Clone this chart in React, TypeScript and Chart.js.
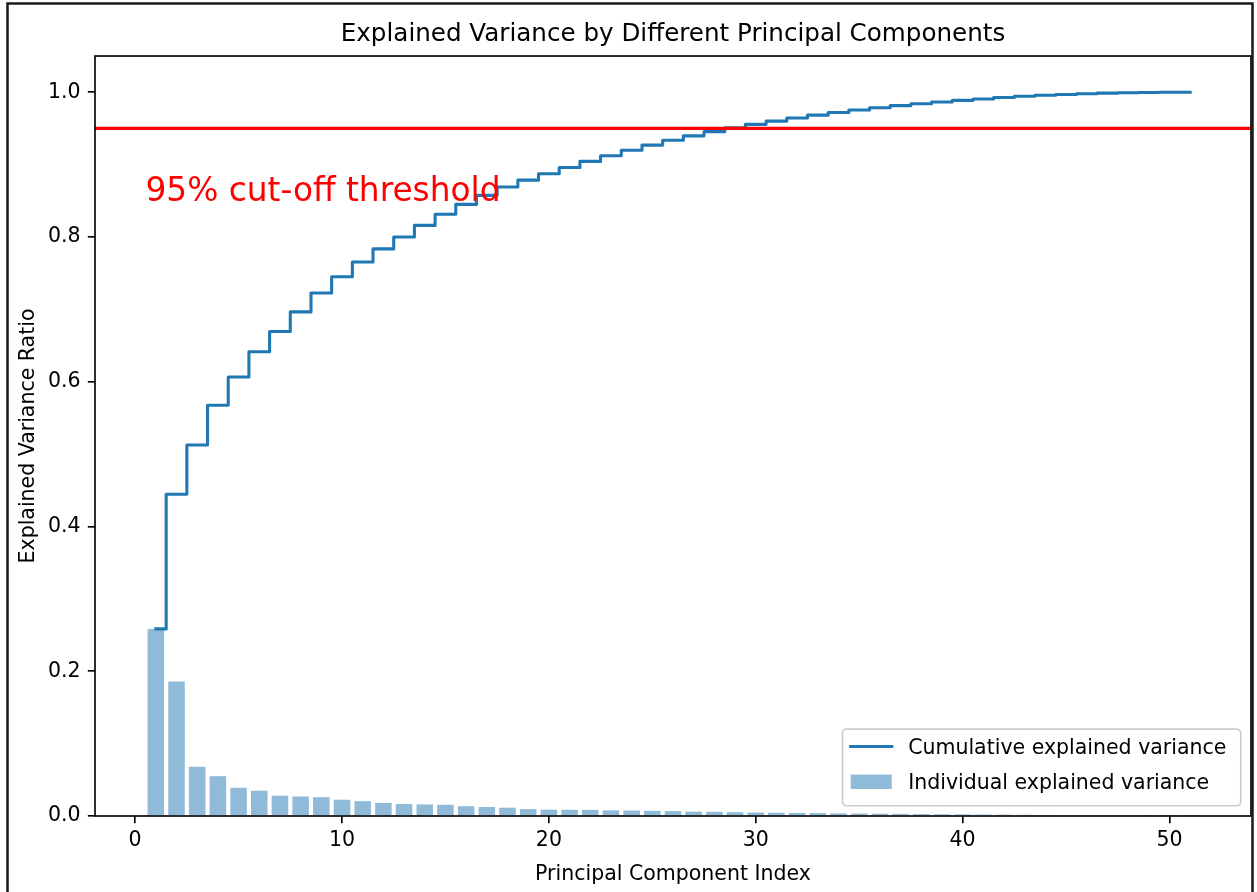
import React, { useEffect, useRef } from 'react';
import { Chart, registerables } from 'chart.js';

Chart.register(...registerables);

// Typography / line scale: sizes are given in points and converted to pixels.
const PT = 2.05;
const FONT = "'DejaVu Sans', sans-serif";
const BASE_SIZE = 10 * PT;

const TITLE = 'Explained Variance by Different Principal Components';
const X_LABEL = 'Principal Component Index';
const Y_LABEL = 'Explained Variance Ratio';
const SERIES_LABELS = ['Cumulative explained variance', 'Individual explained variance'];

const COMPONENT_INDEX = [
  1, 2, 3, 4, 5, 6, 7, 8, 9, 10,
  11, 12, 13, 14, 15, 16, 17, 18, 19, 20,
  21, 22, 23, 24, 25, 26, 27, 28, 29, 30,
  31, 32, 33, 34, 35, 36, 37, 38, 39, 40,
  41, 42, 43, 44, 45, 46, 47, 48, 49, 50,
  51,
];

const INDIVIDUAL_VARIANCE = [
  0.2585, 0.186, 0.068, 0.055, 0.039, 0.035, 0.028, 0.027, 0.026, 0.0225,
  0.0205, 0.018, 0.0165, 0.016, 0.0155, 0.0135, 0.0125, 0.0115, 0.0095, 0.0088,
  0.0086, 0.0085, 0.0077, 0.0076, 0.0072, 0.0068, 0.006, 0.0058, 0.0053, 0.0048,
  0.0045, 0.0042, 0.004, 0.0036, 0.0034, 0.0032, 0.003, 0.0026, 0.0024, 0.0022,
  0.002, 0.0019, 0.0017, 0.0014, 0.0012, 0.001, 0.0008, 0.0006, 0.0004, 0.0002,
  0.0001,
];

const CUMULATIVE_VARIANCE = [
  0.2585, 0.4445, 0.5125, 0.5675, 0.6065, 0.6415, 0.6695, 0.6965, 0.7225, 0.745,
  0.7655, 0.7835, 0.8, 0.816, 0.8315, 0.845, 0.8575, 0.869, 0.8785, 0.8873,
  0.8959, 0.9044, 0.9121, 0.9197, 0.9269, 0.9337, 0.9397, 0.9455, 0.9508, 0.9556,
  0.9601, 0.9643, 0.9683, 0.9719, 0.9753, 0.9785, 0.9815, 0.9841, 0.9865, 0.9887,
  0.9907, 0.9926, 0.9943, 0.9957, 0.9969, 0.9979, 0.9987, 0.9993, 0.9997, 0.9999,
  1.0,
];

const X_TICKS = [0, 10, 20, 30, 40, 50];
const Y_TICKS = [0, 0.2, 0.4, 0.6, 0.8, 1.0];
const X_LIMITS = [-1.94, 53.94];
const Y_LIMITS = [0, 1.05];

const THRESHOLD = 0.95;
const THRESHOLD_TEXT = '95% cut-off threshold';
const THRESHOLD_TEXT_AT = [0.5, 0.85];

const BLUE = '#1f77b4';
const BAR_FILL = 'rgba(31, 119, 180, 0.5)';
const THRESHOLD_COLOR = '#ff0000';

// Threshold line, its caption, the four axes spines and the in-plot legend.
const overlayPlugin = {
  id: 'overlay',
  afterDatasetsDraw(chart: any) {
    const { ctx, chartArea: ca, scales } = chart;
    ctx.save();

    const yT = scales.y.getPixelForValue(THRESHOLD);
    ctx.strokeStyle = THRESHOLD_COLOR;
    ctx.lineWidth = 1.5 * PT;
    ctx.beginPath();
    ctx.moveTo(ca.left, yT);
    ctx.lineTo(ca.right, yT);
    ctx.stroke();

    ctx.strokeStyle = '#000';
    ctx.lineWidth = 0.8 * PT;
    ctx.strokeRect(ca.left, ca.top, ca.right - ca.left, ca.bottom - ca.top);

    ctx.fillStyle = THRESHOLD_COLOR;
    ctx.font = `${16 * PT}px ${FONT}`;
    ctx.textAlign = 'left';
    ctx.textBaseline = 'alphabetic';
    ctx.fillText(
      THRESHOLD_TEXT,
      scales.x.getPixelForValue(THRESHOLD_TEXT_AT[0]),
      scales.y.getPixelForValue(THRESHOLD_TEXT_AT[1])
    );

    // Legend in the lower right corner of the axes
    const F = BASE_SIZE;
    ctx.font = `${F}px ${FONT}`;
    const datasets = chart.data.datasets;
    const textW = Math.max(...datasets.map((d: any) => ctx.measureText(d.label).width));
    const pad = 0.4 * F;
    const hLen = 2 * F;
    const hPad = 0.8 * F;
    const rowH = 1.22 * F;
    const spacing = 0.5 * F;
    const w = pad * 2 + hLen + hPad + textW + 0.3 * F;
    const h = pad * 2 + rowH * datasets.length + spacing * (datasets.length - 1);
    const right = ca.right - 0.5 * F;
    const bottom = ca.bottom - 0.5 * F;
    const left = right - w;
    const top = bottom - h;

    ctx.beginPath();
    ctx.roundRect(left, top, w, h, 0.2 * F);
    ctx.fillStyle = 'rgba(255, 255, 255, 0.8)';
    ctx.fill();
    ctx.strokeStyle = '#cccccc';
    ctx.lineWidth = 0.8 * PT;
    ctx.stroke();

    datasets.forEach((d: any, i: number) => {
      const baseline = top + pad + i * (rowH + spacing) + 0.8 * F;
      const hx = left + pad;
      if (d.type === 'line') {
        ctx.strokeStyle = d.borderColor;
        ctx.lineWidth = d.borderWidth;
        ctx.lineCap = 'square';
        ctx.beginPath();
        ctx.moveTo(hx, baseline - 0.35 * F);
        ctx.lineTo(hx + hLen, baseline - 0.35 * F);
        ctx.stroke();
        ctx.lineCap = 'butt';
      } else {
        ctx.fillStyle = d.backgroundColor;
        ctx.fillRect(hx, baseline - 0.7 * F, hLen, 0.7 * F);
      }
      ctx.fillStyle = '#000';
      ctx.textAlign = 'left';
      ctx.textBaseline = 'alphabetic';
      ctx.fillText(d.label, hx + hLen + hPad, baseline);
    });

    ctx.restore();
  },
  afterDraw(chart: any) {
    // Dark frame around the whole figure
    const { ctx, width, height } = chart;
    ctx.save();
    ctx.strokeStyle = '#1a1a1a';
    ctx.lineWidth = 2.5;
    ctx.beginPath();
    ctx.moveTo(7.5, height + 2);
    ctx.lineTo(7.5, 3.5);
    ctx.lineTo(width - 4.5, 3.5);
    ctx.lineTo(width - 4.5, height + 2);
    ctx.stroke();
    ctx.restore();
  },
};

export default function App() {
  const canvasRef = useRef<HTMLCanvasElement>(null);

  useEffect(() => {
    const canvas = canvasRef.current;
    if (!canvas) return;

    const tickFont = { family: FONT, size: BASE_SIZE };
    const gridStyle = {
      display: true,
      drawOnChartArea: false,
      drawTicks: true,
      tickLength: 3.5 * PT,
      tickWidth: 0.8 * PT,
      color: '#000',
      lineWidth: 0.8 * PT,
      offset: false,
    };

    const chart = new Chart(canvas, {
      type: 'bar',
      data: {
        datasets: [
          {
            type: 'line',
            label: SERIES_LABELS[0],
            data: COMPONENT_INDEX.map((x, i) => ({ x, y: CUMULATIVE_VARIANCE[i] })),
            borderColor: BLUE,
            borderWidth: 1.5 * PT,
            stepped: 'middle',
            pointRadius: 0,
            fill: false,
            borderCapStyle: 'square',
            borderJoinStyle: 'round',
            order: 0,
          } as any,
          {
            type: 'bar',
            label: SERIES_LABELS[1],
            data: COMPONENT_INDEX.map((x, i) => ({ x, y: INDIVIDUAL_VARIANCE[i] })),
            backgroundColor: BAR_FILL,
            borderWidth: 0,
            barPercentage: 0.8,
            categoryPercentage: 1.0,
            order: 1,
          } as any,
        ],
      },
      options: {
        responsive: false,
        animation: false,
        devicePixelRatio: 1,
        events: [],
        layout: { padding: { left: 0, top: 0, right: 6, bottom: 0 } },
        plugins: {
          legend: { display: false },
          tooltip: { enabled: false },
          title: {
            display: true,
            text: TITLE,
            fullSize: false,
            color: '#000',
            font: { family: FONT, size: 12 * PT, weight: 'normal' },
            padding: { top: 20, bottom: 6.5 },
          },
        },
        scales: {
          x: {
            type: 'linear',
            min: X_LIMITS[0],
            max: X_LIMITS[1],
            offset: false,
            grid: gridStyle,
            border: { display: false },
            afterBuildTicks: (s: any) => {
              s.ticks = X_TICKS.map((v) => ({ value: v }));
            },
            afterFit: (s: any) => {
              s.height = 76;
            },
            ticks: {
              font: tickFont,
              color: '#000',
              padding: 5,
              maxRotation: 0,
              autoSkip: false,
              callback: (v: any) => String(v),
            },
            title: {
              display: true,
              text: X_LABEL,
              color: '#000',
              font: { family: FONT, size: BASE_SIZE },
              padding: { top: 0, bottom: 4.7 },
            },
          },
          y: {
            type: 'linear',
            min: Y_LIMITS[0],
            max: Y_LIMITS[1],
            grid: gridStyle,
            border: { display: false },
            afterBuildTicks: (s: any) => {
              s.ticks = Y_TICKS.map((v) => ({ value: v }));
            },
            afterFit: (s: any) => {
              s.width = 95;
            },
            ticks: {
              font: tickFont,
              color: '#000',
              padding: 3.5 * PT,
              autoSkip: false,
              callback: (v: any) => Number(v).toFixed(1),
            },
            title: {
              display: true,
              text: Y_LABEL,
              color: '#000',
              font: { family: FONT, size: BASE_SIZE },
              padding: { top: 16.5, bottom: 0 },
            },
          },
        },
      },
      plugins: [overlayPlugin],
    } as any);

    return () => chart.destroy();
  }, []);

  return (
    <div style={{ position: 'absolute', left: 0, top: 0, width: 1257, height: 892, background: '#fff' }}>
      <canvas ref={canvasRef} width={1257} height={892} style={{ display: 'block', width: 1257, height: 892 }} />
    </div>
  );
}
